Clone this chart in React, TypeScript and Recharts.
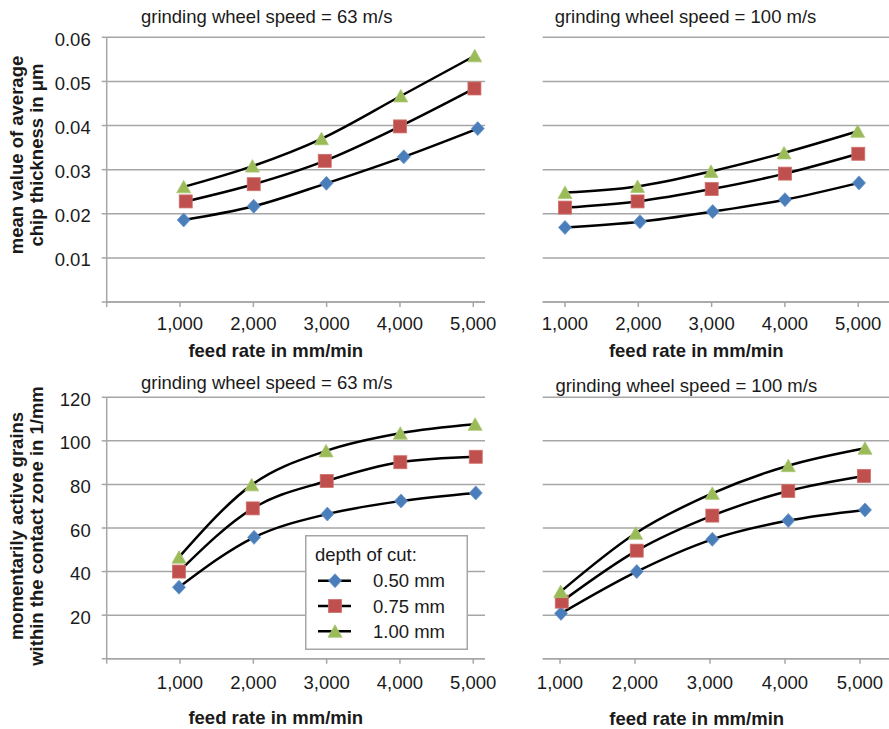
import React from 'react';
import { LineChart, Line, XAxis, YAxis, CartesianGrid, Legend } from 'recharts';

const feedTicks = [1000, 2000, 3000, 4000, 5000];
const depthNames = ['0.50 mm', '0.75 mm', '1.00 mm'];
const chipTicks = [0, 0.01, 0.02, 0.03, 0.04, 0.05, 0.06];
const grainTicks = [0, 20, 40, 60, 80, 100, 120];

// mean chip thickness in µm, [feed rate, value]
const chip63_050 = [[1050, 0.0186], [2005, 0.0217], [2997, 0.0269], [4052, 0.0329], [5061, 0.0393]];
const chip63_075 = [[1078, 0.0228], [2005, 0.0267], [2974, 0.032], [4001, 0.0398], [5016, 0.0484]];
const chip63_100 = [[1050, 0.0261], [1988, 0.0308], [2929, 0.037], [4011, 0.0467], [5020, 0.0558]];

const chip100_050 = [[1000, 0.0169], [2023, 0.0182], [3015, 0.0205], [4001, 0.0232], [5011, 0.027]];
const chip100_075 = [[1000, 0.0214], [1990, 0.0228], [3001, 0.0256], [4001, 0.0291], [5001, 0.0336]];
const chip100_100 = [[1000, 0.0248], [1990, 0.0262], [2992, 0.0296], [3988, 0.0338], [4993, 0.0387]];

// momentarily active grains in 1/mm, [feed rate, value]
const grains63_050 = [[986, 32.8], [2010, 55.7], [3010, 66.4], [4015, 72.4], [5034, 76.1]];
const grains63_075 = [[986, 40.0], [1992, 69.0], [3001, 81.6], [4005, 90.2], [5034, 92.7]];
const grains63_100 = [[986, 46.6], [1978, 79.8], [2992, 95.4], [4005, 103.5], [5025, 107.6]];

const grains100_050 = [[1013, 20.8], [2023, 40.0], [3031, 54.8], [4044, 63.4], [5067, 68.3]];
const grains100_075 = [[1023, 26.2], [2023, 49.6], [3031, 65.7], [4044, 77.0], [5053, 83.9]];
const grains100_100 = [[1009, 30.8], [2009, 57.6], [3031, 75.9], [4044, 88.6], [5067, 96.6]];

const markerFill = ['#4a7ebb', '#c0504d', '#9bbb59'];
const markerStroke = ['#6a95c9', '#cf6f6c', '#aac873'];
const gridColor = '#a6a6a6';
const textColor = '#1a1a1a';
const FONT = '"Liberation Sans", Arial, Helvetica, sans-serif';
const FS = 18.5;

const Marker = ({ kind, cx, cy }: { kind: number; cx: number; cy: number }) => {
  const fill = markerFill[kind];
  const stroke = markerStroke[kind];
  if (kind === 0) {
    return (
      <polygon
        points={`${cx},${cy - 7} ${cx + 6.5},${cy} ${cx},${cy + 7} ${cx - 6.5},${cy}`}
        fill={fill}
        stroke={stroke}
        strokeWidth={0.8}
      />
    );
  }
  if (kind === 1) {
    return <rect x={cx - 6.5} y={cy - 6.5} width={13} height={13} fill={fill} stroke={stroke} strokeWidth={0.8} />;
  }
  return (
    <polygon
      points={`${cx},${cy - 6.5} ${cx + 7},${cy + 6} ${cx - 7},${cy + 6}`}
      fill={fill}
      stroke={stroke}
      strokeWidth={0.8}
    />
  );
};

const LegendBox = ({ payload }: any) => {
  const items = (payload || []).filter((p: any) => depthNames.includes(p.value));
  return (
    <svg width={163} height={115} style={{ display: 'block' }}>
      <rect x={0.75} y={0.75} width={161.5} height={113.5} fill="#fff" stroke={gridColor} strokeWidth={1.5} />
      <text x={10} y={19} dominantBaseline="central" fontSize={FS} fill={textColor} fontFamily={FONT}>
        depth of cut:
      </text>
      {items.map((p: any, i: number) => {
        const k = depthNames.indexOf(p.value);
        const cy = 45.7 + i * 25.3;
        return (
          <g key={p.value}>
            <line x1={13} x2={46} y1={cy} y2={cy} stroke="#000" strokeWidth={2.5} />
            <Marker kind={k} cx={30} cy={cy} />
            <text x={68} y={cy} dominantBaseline="central" fontSize={FS} fill={textColor} fontFamily={FONT}>
              {p.value}
            </text>
          </g>
        );
      })}
    </svg>
  );
};

interface PanelProps {
  left: number;
  top: number;
  width: number;
  height: number;
  margin: { top: number; right: number; bottom: number; left: number };
  series: number[][][];
  xDomain: [number, number];
  xTicks: number[];
  yDomain: [number, number];
  yTicks: number[];
  yFormat: (v: number) => string;
  showY: boolean;
  xAxisHeight: number;
  xTickMargin: number;
  legend?: boolean;
}

const Panel = (p: PanelProps) => {
  const sets = p.series.map((s) => s.map(([feed, value]) => ({ feed, value })));
  return (
    <div style={{ position: 'absolute', left: p.left, top: p.top }}>
      <LineChart width={p.width} height={p.height} margin={p.margin}>
        <CartesianGrid vertical={false} stroke={gridColor} strokeWidth={1.5} />
        <XAxis
          dataKey="feed"
          type="number"
          domain={p.xDomain}
          ticks={p.xTicks}
          interval={0}
          height={p.xAxisHeight}
          tickSize={5}
          tickMargin={p.xTickMargin}
          axisLine={{ stroke: gridColor, strokeWidth: 1.5 }}
          tickLine={{ stroke: gridColor, strokeWidth: 1.5 }}
          tick={{ fill: textColor, fontSize: FS, fontFamily: FONT }}
          tickFormatter={(v: number) => (v === 0 ? '' : v.toLocaleString('en-US'))}
        />
        <YAxis
          type="number"
          domain={p.yDomain}
          ticks={p.yTicks}
          interval={0}
          hide={!p.showY}
          width={106.7}
          tickSize={5}
          tickMargin={11}
          axisLine={{ stroke: gridColor, strokeWidth: 1.5 }}
          tickLine={{ stroke: gridColor, strokeWidth: 1.5 }}
          tick={{ fill: textColor, fontSize: FS, fontFamily: FONT, dy: 2 }}
          tickFormatter={p.yFormat}
        />
        {sets.map((d, i) => (
          <Line
            key={`curve-${i}`}
            data={d}
            dataKey="value"
            type="monotone"
            stroke="#000"
            strokeWidth={2.5}
            dot={false}
            activeDot={false}
            legendType="none"
            isAnimationActive={false}
          />
        ))}
        {sets.map((d, i) => (
          <Line
            key={`marks-${i}`}
            data={d}
            dataKey="value"
            name={depthNames[i]}
            stroke="none"
            activeDot={false}
            isAnimationActive={false}
            dot={(props: any) => <Marker key={`m-${i}-${props.index}`} kind={i} cx={props.cx} cy={props.cy} />}
          />
        ))}
        {p.legend && (
          <Legend
            layout="vertical"
            align="center"
            verticalAlign="middle"
            content={LegendBox}
            wrapperStyle={{ left: 305, top: 165, width: 163, height: 115 }}
          />
        )}
      </LineChart>
    </div>
  );
};

const chipFormat = (v: number) => (v === 0 ? '' : v.toFixed(2));
const grainFormat = (v: number) => (v === 0 ? '' : String(v));

const App = () => {
  return (
    <div
      style={{
        position: 'absolute',
        left: 0,
        top: 0,
        width: 889,
        height: 729,
        overflow: 'hidden',
        background: '#fff',
        fontFamily: FONT,
      }}
    >
      <Panel
        left={0}
        top={0}
        width={500}
        height={365}
        margin={{ top: 37.3, right: 15, bottom: 0, left: 0 }}
        series={[chip63_050, chip63_075, chip63_100]}
        xDomain={[0, 5160]}
        xTicks={[0, ...feedTicks]}
        yDomain={[0, 0.06]}
        yTicks={chipTicks}
        yFormat={chipFormat}
        showY
        xAxisHeight={63}
        xTickMargin={10}
      />
      <Panel
        left={520}
        top={0}
        width={369}
        height={365}
        margin={{ top: 37.3, right: 0, bottom: 0, left: 22.7 }}
        series={[chip100_050, chip100_075, chip100_100]}
        xDomain={[696, 5420]}
        xTicks={feedTicks}
        yDomain={[0, 0.06]}
        yTicks={chipTicks}
        yFormat={chipFormat}
        showY={false}
        xAxisHeight={63}
        xTickMargin={10}
      />
      <Panel
        left={0}
        top={370}
        width={500}
        height={359}
        margin={{ top: 27.3, right: 15, bottom: 0, left: 0 }}
        series={[grains63_050, grains63_075, grains63_100]}
        xDomain={[0, 5160]}
        xTicks={[0, ...feedTicks]}
        yDomain={[0, 120]}
        yTicks={grainTicks}
        yFormat={grainFormat}
        showY
        xAxisHeight={70.3}
        xTickMargin={12}
        legend
      />
      <Panel
        left={520}
        top={370}
        width={369}
        height={359}
        margin={{ top: 27.3, right: 0, bottom: 0, left: 22.7 }}
        series={[grains100_050, grains100_075, grains100_100]}
        xDomain={[769, 5387]}
        xTicks={feedTicks}
        yDomain={[0, 120]}
        yTicks={grainTicks}
        yFormat={grainFormat}
        showY={false}
        xAxisHeight={70.3}
        xTickMargin={12}
      />
      <svg
        width={889}
        height={729}
        style={{ position: 'absolute', left: 0, top: 0, pointerEvents: 'none' }}
        fontFamily={FONT}
        fontSize={FS}
        fill={textColor}
      >
        <g textAnchor="middle" dominantBaseline="central">
          <text x={266.7} y={16.7}>grinding wheel speed = 63 m/s</text>
          <text x={685.5} y={16.7}>grinding wheel speed = 100 m/s</text>
          <text x={266.7} y={382.7}>grinding wheel speed = 63 m/s</text>
          <text x={686.3} y={385}>grinding wheel speed = 100 m/s</text>
        </g>
        <g textAnchor="middle" dominantBaseline="central" fontWeight="bold">
          <text x={275.8} y={350}>feed rate in mm/min</text>
          <text x={696.3} y={350}>feed rate in mm/min</text>
          <text x={275.8} y={717.3}>feed rate in mm/min</text>
          <text x={696.7} y={718}>feed rate in mm/min</text>
          <text x={16} y={155} transform="rotate(-90 16 155)">mean value of average</text>
          <text x={36.7} y={155} transform="rotate(-90 36.7 155)">chip thickness in μm</text>
          <text x={16.7} y={526} transform="rotate(-90 16.7 526)">momentarily active grains</text>
          <text x={36.7} y={526} transform="rotate(-90 36.7 526)">within the contact zone in 1/mm</text>
        </g>
      </svg>
    </div>
  );
};

export default App;
